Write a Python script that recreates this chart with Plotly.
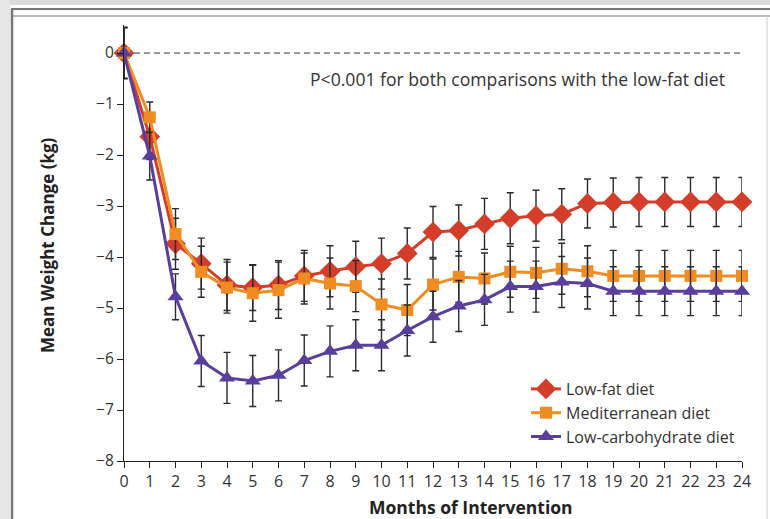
import plotly.graph_objects as go

# Months since start of the intervention
months = list(range(25))

# Mean weight change (kg) per diet group
low_fat = [0, -1.64, -3.74, -4.13, -4.55, -4.60, -4.55, -4.37, -4.28, -4.19, -4.13, -3.93,
           -3.51, -3.48, -3.35, -3.24, -3.19, -3.16, -2.95, -2.93, -2.92, -2.92, -2.92, -2.92, -2.92]
mediterranean = [0, -1.26, -3.55, -4.29, -4.60, -4.71, -4.65, -4.42, -4.52, -4.57, -4.93, -5.04,
                 -4.54, -4.39, -4.42, -4.29, -4.31, -4.23, -4.28, -4.37, -4.37, -4.37, -4.37, -4.37, -4.37]
low_carb = [0, -2.02, -4.78, -6.04, -6.37, -6.43, -6.32, -6.03, -5.85, -5.73, -5.73, -5.44,
            -5.17, -4.96, -4.84, -4.58, -4.58, -4.49, -4.52, -4.67, -4.67, -4.67, -4.67, -4.67, -4.67]

# Standard errors (kg)
low_fat_se = [0.5, 0.45, 0.5, 0.5, 0.5, 0.45, 0.48, 0.5, 0.5, 0.5, 0.5, 0.5,
              0.5, 0.5, 0.5, 0.5, 0.5, 0.5, 0.48, 0.48, 0.48, 0.48, 0.48, 0.48, 0.48]
mediterranean_se = [0.5, 0.3, 0.5, 0.5, 0.5, 0.55, 0.55, 0.5, 0.5, 0.5, 0.5, 0.5,
                    0.5, 0.5, 0.5, 0.5, 0.5, 0.5, 0.5, 0.5, 0.5, 0.5, 0.5, 0.5, 0.5]
low_carb_se = [0.5, 0.47, 0.45, 0.5, 0.5, 0.5, 0.5, 0.5, 0.5, 0.5, 0.5, 0.5,
               0.5, 0.5, 0.5, 0.5, 0.5, 0.5, 0.5, 0.48, 0.48, 0.48, 0.48, 0.48, 0.48]

series_names = ["Low-fat diet", "Mediterranean diet", "Low-carbohydrate diet"]
y_ticks = list(range(-8, 1))
x_ticks = list(range(0, 25))

FONT = "Open Sans"
W, H = 770, 519
L, R, T, B = 124, 742, 25, 461  # plot area in pixels


def px(x):
    return (x - L) / (R - L)


def py(y):
    return (B - y) / (B - T)


fig = go.Figure()

styles = [
    (low_fat, low_fat_se, "#d43d2a", "diamond", 16),
    (mediterranean, mediterranean_se, "#ef8d22", "square", 12),
    (low_carb, low_carb_se, "#5a3e9c", "triangle-up", 14),
]

for name, (vals, se, color, symbol, size) in zip(series_names, styles):
    fig.add_trace(go.Scatter(
        x=months, y=vals, name=name, mode="lines+markers",
        line=dict(color=color, width=3),
        marker=dict(symbol=symbol, size=size, color=color, line=dict(width=0)),
        error_y=dict(type="data", array=se, color="#2b2b2b", thickness=1.4, width=3.5),
        cliponaxis=False,
    ))

# zero reference line
fig.add_shape(type="line", xref="x", yref="y", x0=0, x1=24.2, y0=0, y1=0,
              line=dict(color="#333", width=1, dash="6px,4px"), layer="below")

fig.add_annotation(
    x=px(517), y=py(79), xref="paper", yref="paper", showarrow=False,
    xanchor="center", yanchor="middle",
    text="P<0.001 for both comparisons with the low-fat diet",
    font=dict(family=FONT, size=17.6, color="#333"),
)

# axis titles
fig.add_annotation(
    x=px(471), y=py(507), xref="paper", yref="paper", showarrow=False,
    xanchor="center", yanchor="middle",
    text="<b>Months of Intervention</b>",
    font=dict(family=FONT, size=17.5, color="#222"),
)
fig.add_annotation(
    x=px(47), y=py(245), xref="paper", yref="paper", showarrow=False,
    xanchor="center", yanchor="middle", textangle=-90,
    text="<b>Mean Weight Change (kg)</b>",
    font=dict(family=FONT, size=17, color="#222"),
)

# page frame
frame = [
    dict(type="rect", x0=px(0), x1=px(W), y0=py(0), y1=py(5), fillcolor="#dadada", line=dict(width=0)),
    dict(type="rect", x0=px(0), x1=px(10), y0=py(0), y1=py(H), fillcolor="#e6e6e6", line=dict(width=0)),
    dict(type="line", x0=px(11), x1=px(W), y0=py(9), y1=py(9), line=dict(color="#4a4a4a", width=1.5)),
    dict(type="line", x0=px(11), x1=px(W), y0=py(16), y1=py(16), line=dict(color="#777", width=1)),
    dict(type="line", x0=px(12), x1=px(12), y0=py(9), y1=py(H), line=dict(color="#777", width=2.5)),
    dict(type="line", x0=px(767), x1=px(767), y0=py(16), y1=py(H), line=dict(color="#cfcfcf", width=1)),
]
for s in frame:
    fig.add_shape(xref="paper", yref="paper", layer="below", **s)

fig.update_layout(
    width=W, height=H,
    margin=dict(l=L, r=W - R, t=T, b=H - B, pad=0),
    paper_bgcolor="white", plot_bgcolor="white",
    font=dict(family=FONT, color="#222"),
    showlegend=True,
    legend=dict(
        x=px(526), y=py(372), xanchor="left", yanchor="top",
        bgcolor="rgba(0,0,0,0)", font=dict(family=FONT, size=16, color="#333"),
        tracegroupgap=0, itemwidth=30,
    ),
    xaxis=dict(
        range=[0, 24], tickmode="array", tickvals=x_ticks,
        ticks="outside", ticklen=6, tickwidth=1, tickcolor="#222",
        showline=True, linecolor="#222", linewidth=1.2, showgrid=False, zeroline=False,
        tickfont=dict(family=FONT, size=16, color="#333"),
    ),
    yaxis=dict(
        range=[-8, 0.55], tickmode="array", tickvals=y_ticks,
        ticks="outside", ticklen=6, tickwidth=1, tickcolor="#222",
        showline=True, linecolor="#222", linewidth=1.2, showgrid=False, zeroline=False,
        tickfont=dict(family=FONT, size=15.5, color="#333"),
    ),
)

fig.write_html("out.html")
